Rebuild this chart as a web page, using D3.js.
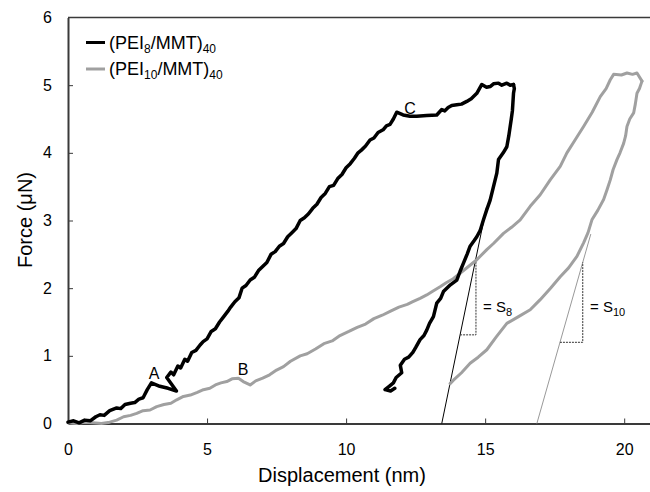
<!DOCTYPE html>
<html>
<head>
  <meta charset="utf-8">
  <title>Force vs Displacement</title>
  <style>
  body { margin: 0; background: #fff; }
  svg { font-family: "Liberation Sans", Arial, sans-serif; }
  .axis path { stroke: #3a3a3a; stroke-width: 2; }
  .axis line { stroke: #3a3a3a; stroke-width: 1; }
  .axis text { font-size: 16px; fill: #000; }
  </style>
</head>
<body>
  <div id="chart"></div>
  <script src="https://cdn.jsdelivr.net/npm/d3@7"></script>
  <script>
  //tick values
  var xTicks = [0, 5, 10, 15, 20];
  var yTicks = [0, 1, 2, 3, 4, 5, 6];

  //PEI8 loading and unloading [displacement nm, force uN]
  var pei8Load = [[0,0.02],[0.2,0.04],[0.4,0.01],[0.6,0.05],[0.8,0.04],[1.0,0.1],[1.15,0.13],[1.3,0.12],[1.5,0.19],
    [1.75,0.23],[1.9,0.22],[2.05,0.28],[2.25,0.3],[2.4,0.31],[2.55,0.36],[2.7,0.38],[2.85,0.5],[3.0,0.6],[3.3,0.55],
    [3.6,0.52],[3.9,0.48],[3.55,0.68],[3.7,0.76],[3.8,0.72],[3.95,0.85],[4.05,0.82],[4.2,0.95],[4.3,0.92],[4.45,1.05],
    [4.6,1.08],[4.75,1.16],[4.86,1.21],[5.0,1.25],[5.15,1.36],[5.3,1.4],[5.45,1.5],[5.6,1.58],[5.75,1.66],[5.85,1.72],
    [6.0,1.8],[6.15,1.86],[6.26,2.0],[6.4,2.04],[6.55,2.12],[6.7,2.16],[6.85,2.26],[7.0,2.32],[7.15,2.38],[7.3,2.5],
    [7.45,2.54],[7.6,2.62],[7.75,2.66],[7.9,2.76],[8.05,2.82],[8.2,2.88],[8.35,3.0],[8.5,3.04],[8.65,3.1],[8.8,3.18],
    [8.95,3.24],[9.1,3.34],[9.25,3.4],[9.4,3.5],[9.55,3.52],[9.7,3.62],[9.85,3.68],[10.0,3.78],[10.15,3.84],[10.3,3.92],
    [10.43,4.0],[10.55,4.04],[10.7,4.1],[10.86,4.19],[11.0,4.22],[11.15,4.3],[11.33,4.34],[11.45,4.4],[11.58,4.42],
    [11.7,4.5],[11.82,4.6],[12.05,4.56],[12.3,4.54],[12.54,4.54],[12.9,4.55],[13.26,4.56],[13.44,4.64],[13.55,4.62],
    [13.67,4.67],[13.8,4.7],[13.98,4.71],[14.15,4.72],[14.34,4.76],[14.5,4.8],[14.7,4.88],[14.88,5.01],[15.05,4.97],
    [15.18,4.98],[15.3,5.02],[15.48,5.03],[15.6,5.0],[15.78,5.03],[15.9,5.0],[16.02,5.01]];
  var pei8Unload = [[16.02,5.01],[16.05,4.95],[16.02,4.88],[16.0,4.75],[15.98,4.62],[15.94,4.5],[15.9,4.39],[15.85,4.25],
    [15.78,4.09],[15.65,4.0],[15.48,3.9],[15.45,3.8],[15.42,3.7],[15.3,3.5],[15.18,3.3],[15.05,3.15],[14.94,3.01],
    [14.82,2.85],[14.7,2.76],[14.6,2.7],[14.46,2.62],[14.35,2.5],[14.22,2.37],[14.1,2.25],[13.98,2.12],[13.75,2.05],
    [13.5,1.95],[13.4,1.85],[13.26,1.78],[13.2,1.68],[13.14,1.58],[13.0,1.48],[12.9,1.38],[12.8,1.3],[12.66,1.24],
    [12.5,1.12],[12.4,1.05],[12.25,0.98],[12.1,0.95],[11.95,0.86],[12.0,0.75],[11.8,0.68],[11.7,0.6],[11.55,0.55],
    [11.4,0.5],[11.6,0.48],[11.75,0.52]];

  //PEI10 loading and unloading
  var pei10Load = [[0,0.01],[0.3,0.0],[0.6,0.02],[0.9,0.01],[1.2,0.0],[1.5,0.02],[1.75,0.05],[2.0,0.1],[2.25,0.12],
    [2.47,0.15],[2.7,0.19],[2.95,0.2],[3.19,0.25],[3.45,0.28],[3.7,0.3],[3.91,0.35],[4.15,0.4],[4.4,0.42],[4.65,0.46],
    [4.87,0.5],[5.1,0.52],[5.3,0.57],[5.5,0.6],[5.71,0.62],[5.9,0.66],[6.13,0.67],[6.3,0.62],[6.55,0.57],[6.75,0.63],
    [7.0,0.67],[7.25,0.72],[7.5,0.79],[7.75,0.84],[8.0,0.92],[8.35,1.0],[8.6,1.03],[8.9,1.1],[9.2,1.18],[9.5,1.22],
    [9.78,1.3],[10.1,1.36],[10.4,1.42],[10.7,1.47],[11.0,1.55],[11.3,1.6],[11.6,1.66],[11.9,1.72],[12.2,1.76],
    [12.4,1.8],[12.66,1.85],[12.9,1.9],[13.1,1.95],[13.38,2.02],[13.6,2.08],[13.85,2.14],[14.1,2.22],[14.4,2.32],
    [14.7,2.42],[15.06,2.57],[15.3,2.66],[15.66,2.81],[15.95,2.9],[16.26,3.01],[16.62,3.21],[16.98,3.38],[17.34,3.6],
    [17.7,3.8],[17.94,4.0],[18.25,4.2],[18.54,4.39],[18.85,4.6],[19.14,4.83],[19.35,4.95],[19.5,5.08],[19.62,5.16],
    [19.9,5.15],[20.1,5.18],[20.3,5.16],[20.46,5.18],[20.64,5.06]];
  var pei10Unload = [[20.64,5.06],[20.55,4.95],[20.46,4.88],[20.4,4.72],[20.34,4.59],[20.2,4.5],[20.1,4.39],[20.05,4.25],
    [19.98,4.14],[19.85,4.0],[19.74,3.9],[19.6,3.75],[19.5,3.6],[19.38,3.45],[19.26,3.31],[19.05,3.15],[18.84,3.01],
    [18.7,2.82],[18.54,2.67],[18.3,2.47],[18.0,2.3],[17.7,2.17],[17.35,2.0],[16.98,1.83],[16.62,1.68],[16.2,1.58],
    [15.78,1.48],[15.4,1.28],[15.06,1.09],[14.75,0.98],[14.46,0.89],[14.15,0.75],[13.86,0.64],[13.74,0.59]];

  //stiffness tangents and their slope triangles
  var s8Tangent = [[13.44,0],[15.05,3.2]];
  var s10Tangent = [[16.86,0],[18.8,2.8]];
  var s8Step = [[14.1,1.31],[14.67,1.31],[14.67,2.45]];
  var s10Step = [[17.69,1.2],[18.51,1.2],[18.51,2.38]];

  //point labels
  var pointLabels = [{t:"A", x:3.1, y:0.66}, {t:"B", x:6.3, y:0.72}, {t:"C", x:12.3, y:4.58}];

  var width = 650, height = 492;
  var svg = d3.select("#chart").append("svg")
    .attr("width", width)
    .attr("height", height);

  var x = d3.scaleLinear().domain([0, 21]).range([68, 652]);
  var y = d3.scaleLinear().domain([0, 6]).range([423.5, 17.5]);

  //top border of the plot area
  svg.append("line")
    .attr("x1", x(0)).attr("x2", width)
    .attr("y1", y(6)).attr("y2", y(6))
    .attr("stroke", "#3a3a3a").attr("stroke-width", 1.5);

  //axes, ticks pointing inside
  svg.append("g")
    .attr("class", "axis")
    .attr("transform", "translate(0," + y(0) + ")")
    .call(d3.axisBottom(x).tickValues(xTicks).tickFormat(d3.format("d"))
      .tickSizeInner(-5).tickSizeOuter(0).tickPadding(20));

  svg.append("g")
    .attr("class", "axis")
    .attr("transform", "translate(" + x(0) + ",0)")
    .call(d3.axisLeft(y).tickValues(yTicks).tickFormat(d3.format("d"))
      .tickSizeInner(-5).tickSizeOuter(0).tickPadding(16));

  svg.selectAll(".axis .tick").filter(function(d) { return d === 0 || d === 6; }).select("line").remove();

  //axis titles
  svg.append("text")
    .attr("x", 342).attr("y", 482)
    .attr("text-anchor", "middle")
    .style("font-size", "20px")
    .text("Displacement (nm)");

  svg.append("text")
    .attr("transform", "translate(32,220) rotate(-90)")
    .attr("text-anchor", "middle")
    .style("font-size", "20px")
    .text("Force (\u03bcN)");

  var line = d3.line()
    .x(function(d) { return x(d[0]); })
    .y(function(d) { return y(d[1]); });

  //thin tangent lines and dotted triangles
  svg.append("path").datum(s8Tangent).attr("d", line)
    .attr("fill", "none").attr("stroke", "#000").attr("stroke-width", 1);
  svg.append("path").datum(s10Tangent).attr("d", line)
    .attr("fill", "none").attr("stroke", "#999").attr("stroke-width", 1);
  [s8Step, s10Step].forEach(function(s) {
    svg.append("path").datum(s).attr("d", line)
      .attr("fill", "none").attr("stroke", "#333").attr("stroke-width", 1)
      .attr("stroke-dasharray", "2,1");
  });

  //curves
  [[pei10Load, "#a0a0a0", 3], [pei10Unload, "#a0a0a0", 3], [pei8Load, "#000", 3.5], [pei8Unload, "#000", 3.5]].forEach(function(c) {
    svg.append("path").datum(c[0]).attr("d", line)
      .attr("fill", "none").attr("stroke", c[1]).attr("stroke-width", c[2])
      .attr("stroke-linejoin", "round").attr("stroke-linecap", "round");
  });

  //A B C labels
  svg.selectAll(".plabel").data(pointLabels).enter().append("text")
    .attr("class", "plabel")
    .attr("x", function(d) { return x(d.x); })
    .attr("y", function(d) { return y(d.y); })
    .attr("text-anchor", "middle")
    .style("font-size", "16px")
    .text(function(d) { return d.t; });

  //slope labels
  function slopeLabel(px, sub) {
    var t = svg.append("text").attr("x", px).attr("y", 312).style("font-size", "15px");
    t.append("tspan").text("= S");
    t.append("tspan").attr("dy", 4).style("font-size", "11px").text(sub);
  }
  slopeLabel(483, "8");
  slopeLabel(590, "10");

  //legend
  var legend = [{n:"8", c:"#000", y:42.5}, {n:"10", c:"#a0a0a0", y:69}];
  legend.forEach(function(l) {
    svg.append("line")
      .attr("x1", 86).attr("x2", 105)
      .attr("y1", l.y).attr("y2", l.y)
      .attr("stroke", l.c).attr("stroke-width", 3);
    var t = svg.append("text").attr("x", 109).attr("y", l.y + 6).style("font-size", "18px");
    t.append("tspan").text("(PEI");
    t.append("tspan").attr("dy", 4).style("font-size", "12px").text(l.n);
    t.append("tspan").attr("dy", -4).text("/MMT)");
    t.append("tspan").attr("dy", 4).style("font-size", "12px").text("40");
  });
  </script>
</body>
</html>
